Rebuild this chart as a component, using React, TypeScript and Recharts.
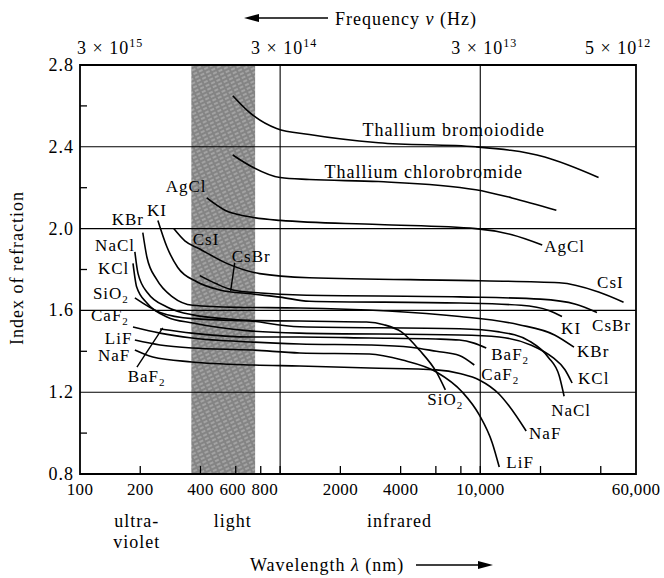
import React from 'react';
import { ComposedChart, Line, Scatter, XAxis, YAxis, ReferenceLine, ReferenceArea } from 'recharts';

type Pt = [number, number];

// [wavelength nm, index of refraction]
const thalliumBromoiodide: Pt[] = [[580, 2.65], [700, 2.57], [960, 2.49], [1400, 2.46], [3100, 2.42], [9500, 2.4], [21000, 2.35], [39000, 2.25]];
const thalliumChlorobromide: Pt[] = [[580, 2.36], [700, 2.31], [1000, 2.25], [1400, 2.24], [3100, 2.23], [9500, 2.19], [14400, 2.15], [24000, 2.09]];
const agCl: Pt[] = [[430, 2.15], [530, 2.09], [680, 2.06], [1000, 2.04], [3100, 2.02], [9500, 2.0], [14400, 1.97], [20400, 1.92]];
const csI: Pt[] = [[294, 2.0], [334, 1.94], [397, 1.9], [541, 1.83], [790, 1.78], [1400, 1.76], [9900, 1.745], [24800, 1.735], [39000, 1.69], [52000, 1.64]];
const kI: Pt[] = [[245, 2.04], [272, 1.91], [308, 1.81], [383, 1.74], [500, 1.7], [730, 1.68], [1000, 1.665], [1400, 1.645], [7900, 1.636], [16000, 1.625], [22000, 1.6], [25600, 1.57]];
const csBr: Pt[] = [[397, 1.77], [480, 1.73], [580, 1.7], [800, 1.685], [1250, 1.675], [7900, 1.666], [20000, 1.655], [30000, 1.63], [38300, 1.59]];
const kBr: Pt[] = [[206, 1.98], [216, 1.86], [242, 1.75], [291, 1.665], [366, 1.625], [600, 1.615], [1250, 1.612], [7900, 1.57], [15600, 1.53], [23500, 1.48], [29400, 1.42]];
const naCl: Pt[] = [[188, 1.886], [195, 1.78], [218, 1.685], [272, 1.617], [366, 1.578], [700, 1.55], [1250, 1.52], [7900, 1.51], [12440, 1.495], [17600, 1.45], [21900, 1.37], [24800, 1.28], [26240, 1.18]];
const kCl: Pt[] = [[184, 1.83], [192, 1.714], [216, 1.636], [272, 1.568], [366, 1.538], [700, 1.5], [1250, 1.489], [7900, 1.48], [12440, 1.47], [18000, 1.43], [23000, 1.37], [26500, 1.31], [28770, 1.245]];
const siO2: Pt[] = [[188, 1.661], [251, 1.59], [366, 1.56], [700, 1.55], [1250, 1.548], [2700, 1.543], [3300, 1.53], [4036, 1.495], [4963, 1.406], [6033, 1.299], [6692, 1.211]];
const baF2: Pt[] = [[251, 1.509], [362, 1.489], [729, 1.47], [1251, 1.47], [2795, 1.465], [6000, 1.46], [7860, 1.455], [9300, 1.44], [10713, 1.416]];
const caF2: Pt[] = [[184, 1.519], [251, 1.489], [362, 1.465], [729, 1.445], [1251, 1.436], [2795, 1.431], [4500, 1.42], [6033, 1.4], [7861, 1.38], [9335, 1.333]];
const liF: Pt[] = [[188, 1.455], [251, 1.431], [362, 1.416], [729, 1.406], [1251, 1.392], [2795, 1.387], [4083, 1.357], [6033, 1.299], [8128, 1.201], [9886, 1.089], [11480, 0.952], [12440, 0.834]];
const naF: Pt[] = [[188, 1.406], [231, 1.372], [362, 1.348], [729, 1.333], [1251, 1.328], [2795, 1.318], [6033, 1.309], [8000, 1.29], [9886, 1.26], [12440, 1.19], [14000, 1.13], [16960, 1.01]];

const baF2Leader: Pt[] = [[192.5, 1.323], [259, 1.514]];
const csBrLeader: Pt[] = [[566, 1.695], [593, 1.832]];

const curves = [thalliumBromoiodide, thalliumChlorobromide, agCl, csI, kI, csBr, kBr, naCl, kCl, siO2, baF2, caF2, liF, naF];

const curveLabels = [
  { text: 'Thallium bromoiodide', l: 2579, n: 2.453 },
  { text: 'Thallium chlorobromide', l: 1667, n: 2.247 },
  { text: 'AgCl', l: 20850, n: 1.886 },
  { text: 'CsI', l: 38330, n: 1.71 },
  { text: 'CsBr', l: 36200, n: 1.499 },
  { text: 'KI', l: 25350, n: 1.485 },
  { text: 'KBr', l: 30460, n: 1.372 },
  { text: 'KCl', l: 30800, n: 1.24 },
  { text: 'NaCl', l: 22600, n: 1.084 },
  { text: 'BaF2', l: 11350, n: 1.357 },
  { text: 'CaF2', l: 10120, n: 1.26 },
  { text: 'SiO2', l: 5440, n: 1.137 },
  { text: 'NaF', l: 17540, n: 0.971 },
  { text: 'LiF', l: 13490, n: 0.829 },
  { text: 'AgCl', l: 268, n: 2.179 },
  { text: 'KBr', l: 144, n: 2.018 },
  { text: 'KI', l: 216, n: 2.062 },
  { text: 'CsI', l: 366, n: 1.92 },
  { text: 'CsBr', l: 573, n: 1.837 },
  { text: 'NaCl', l: 119, n: 1.89 },
  { text: 'KCl', l: 123, n: 1.778 },
  { text: 'SiO2', l: 116, n: 1.656 },
  { text: 'CaF2', l: 113.5, n: 1.548 },
  { text: 'LiF', l: 133, n: 1.436 },
  { text: 'NaF', l: 123, n: 1.353 },
  { text: 'BaF2', l: 173, n: 1.25 },
];

const bandNm = [360, 750];
const gridN = [1.2, 1.6, 2.0, 2.4];
const gridNm = [1000, 10000];
const yTicks = [0.8, 1.0, 1.2, 1.4, 1.6, 1.8, 2.0, 2.2, 2.4, 2.6, 2.8];
const yLabeled = [0.8, 1.2, 1.6, 2.0, 2.4, 2.8];
const xTicks = [100, 200, 400, 600, 800, 1000, 2000, 4000, 6000, 8000, 10000, 20000, 40000, 60000];
const xLabeled = [100, 200, 400, 600, 800, 2000, 4000, 10000, 60000];

const freqNm = [100, 1000, 10000, 60000];
const freqText = ['3 × 10', '3 × 10', '3 × 10', '5 × 10'];
const freqExp = ['15', '14', '13', '12'];

const regionText = ['ultra-', 'violet', 'light', 'infrared'];
const regionNm = [192, 192, 580, 3945];
const regionRow = [0, 1, 0, 0];

const FONT = '"Liberation Serif", "Times New Roman", serif';
const txt = { fontFamily: FONT, fontSize: 18, letterSpacing: 1, fill: '#000' };
const smallTxt = { ...txt, fontSize: 17 };

const toRows = (pts: Pt[]) => pts.map(([l, n]) => ({ l, n }));
const freqRows = freqNm.map((l, i) => ({ l, n: 2.8, i }));
const regionRows = regionNm.map((l, i) => ({ l, n: 0.8, i }));

// the three crowded labels in the visible band are nudged apart a little
const tickNudge = (v: number) => (v === 600 ? -3 : v === 800 ? 4 : 0);

const BottomTick = (props: any) => {
  const { x, y, payload } = props;
  const v = payload.value;
  const edge = v === 100 || v === 60000;
  return (
    <g>
      {!edge && <line x1={x} y1={y} x2={x} y2={y - 8} stroke="#000" strokeWidth={1.3} />}
      {xLabeled.includes(v) && (
        <text x={x + tickNudge(v)} y={y + 21} textAnchor="middle" {...txt} fontSize={17} letterSpacing={0.3}>
          {v >= 10000 ? v.toLocaleString('en-US') : v}
        </text>
      )}
    </g>
  );
};

const LeftTick = (props: any) => {
  const { x, y, payload } = props;
  const v = payload.value;
  if (yLabeled.includes(v)) {
    return (
      <text x={x - 6} y={y + 6} textAnchor="end" {...txt}>
        {v.toFixed(1)}
      </text>
    );
  }
  return <line x1={x} y1={y} x2={x + 7} y2={y} stroke="#000" strokeWidth={1.3} />;
};

const CurveLabel = (props: any) => {
  const { cx, cy, payload } = props;
  const m = /^(.*?)(\d)$/.exec(payload.text);
  const style = payload.text.length > 6 ? txt : smallTxt;
  return (
    <text x={cx} y={cy} {...style}>
      {m ? (
        <>
          {m[1]}
          <tspan dy={4} fontSize={11}>{m[2]}</tspan>
        </>
      ) : (
        payload.text
      )}
    </text>
  );
};

const FreqLabel = (props: any) => {
  const { cx, cy, payload } = props;
  const i = payload.i;
  let x = cx + 4;
  let anchor: 'start' | 'middle' = 'middle';
  if (i === 0) { x = cx - 3; anchor = 'start'; }
  if (i === freqNm.length - 1) { x = cx - 51; anchor = 'start'; }
  return (
    <text x={x} y={cy - 11} textAnchor={anchor} {...txt}>
      {freqText[i]}
      <tspan dy={-7} fontSize={12}>{freqExp[i]}</tspan>
    </text>
  );
};

const RegionLabel = (props: any) => {
  const { cx, cy, payload } = props;
  const i = payload.i;
  return (
    <text x={cx} y={cy + 53 + regionRow[i] * 21} textAnchor="middle" {...txt}>
      {regionText[i]}
    </text>
  );
};

export default function App() {
  return (
    <div style={{ position: 'relative', width: 664, height: 578, background: '#fff' }}>
      <style>{'body{margin:0}'}</style>
      <ComposedChart width={664} height={578} margin={{ top: 65, right: 28, bottom: 74, left: 20 }}>
        <defs>
          <pattern id="band" width="6" height="4" patternUnits="userSpaceOnUse" patternTransform="rotate(-25)">
            <rect width="6" height="4" fill="#848484" />
            <line x1="0" y1="1" x2="4" y2="1" stroke="#c2c2c2" strokeWidth="1" />
          </pattern>
        </defs>
        <XAxis
          dataKey="l"
          type="number"
          scale="log"
          domain={[100, 60000]}
          ticks={xTicks}
          interval={0}
          tick={BottomTick}
          tickLine={false}
          axisLine={false}
          tickSize={0}
          tickMargin={0}
          height={30}
        />
        <YAxis
          dataKey="n"
          type="number"
          domain={[0.8, 2.8]}
          ticks={yTicks}
          interval={0}
          tick={LeftTick}
          tickLine={false}
          axisLine={false}
          tickSize={0}
          tickMargin={0}
          width={60}
        />
        <ReferenceArea x1={bandNm[0]} x2={bandNm[1]} y1={0.8} y2={2.8} fill="url(#band)" fillOpacity={1} stroke="none" />
        {gridN.map((v) => (
          <ReferenceLine key={'h' + v} y={v} stroke="#000" strokeWidth={1.1} />
        ))}
        {gridNm.map((v) => (
          <ReferenceLine key={'v' + v} x={v} stroke="#000" strokeWidth={1.1} />
        ))}
        <ReferenceArea x1={100} x2={60000} y1={0.8} y2={2.8} fill="none" stroke="#000" strokeWidth={1.8} />
        {curves.map((pts, i) => (
          <Line
            key={'c' + i}
            data={toRows(pts)}
            dataKey="n"
            type="monotone"
            stroke="#000"
            strokeWidth={1.6}
            dot={false}
            activeDot={false}
            isAnimationActive={false}
          />
        ))}
        {[baF2Leader, csBrLeader].map((pts, i) => (
          <Line
            key={'lead' + i}
            data={toRows(pts)}
            dataKey="n"
            type="linear"
            stroke="#000"
            strokeWidth={1.4}
            dot={false}
            activeDot={false}
            isAnimationActive={false}
          />
        ))}
        <Scatter data={curveLabels} shape={CurveLabel} isAnimationActive={false} />
        <Scatter data={freqRows} shape={FreqLabel} isAnimationActive={false} />
        <Scatter data={regionRows} shape={RegionLabel} isAnimationActive={false} />
      </ComposedChart>
      <svg width={664} height={578} style={{ position: 'absolute', left: 0, top: 0, pointerEvents: 'none' }}>
        <line x1={256} y1={18} x2={328} y2={18} stroke="#000" strokeWidth={1.6} />
        <polygon points="244,18 259,14 259,22" fill="#000" />
        <text x={335} y={25} {...txt}>
          Frequency <tspan fontStyle="italic">ν</tspan> (Hz)
        </text>
        <text x={0} y={0} transform="translate(23,268) rotate(-90)" textAnchor="middle" {...txt}>
          Index of refraction
        </text>
        <text x={250} y={571} {...txt}>
          Wavelength <tspan fontStyle="italic">λ</tspan> (nm)
        </text>
        <line x1={416} y1={565} x2={480} y2={565} stroke="#000" strokeWidth={1.6} />
        <polygon points="493,565 478,561 478,569" fill="#000" />
      </svg>
    </div>
  );
}
